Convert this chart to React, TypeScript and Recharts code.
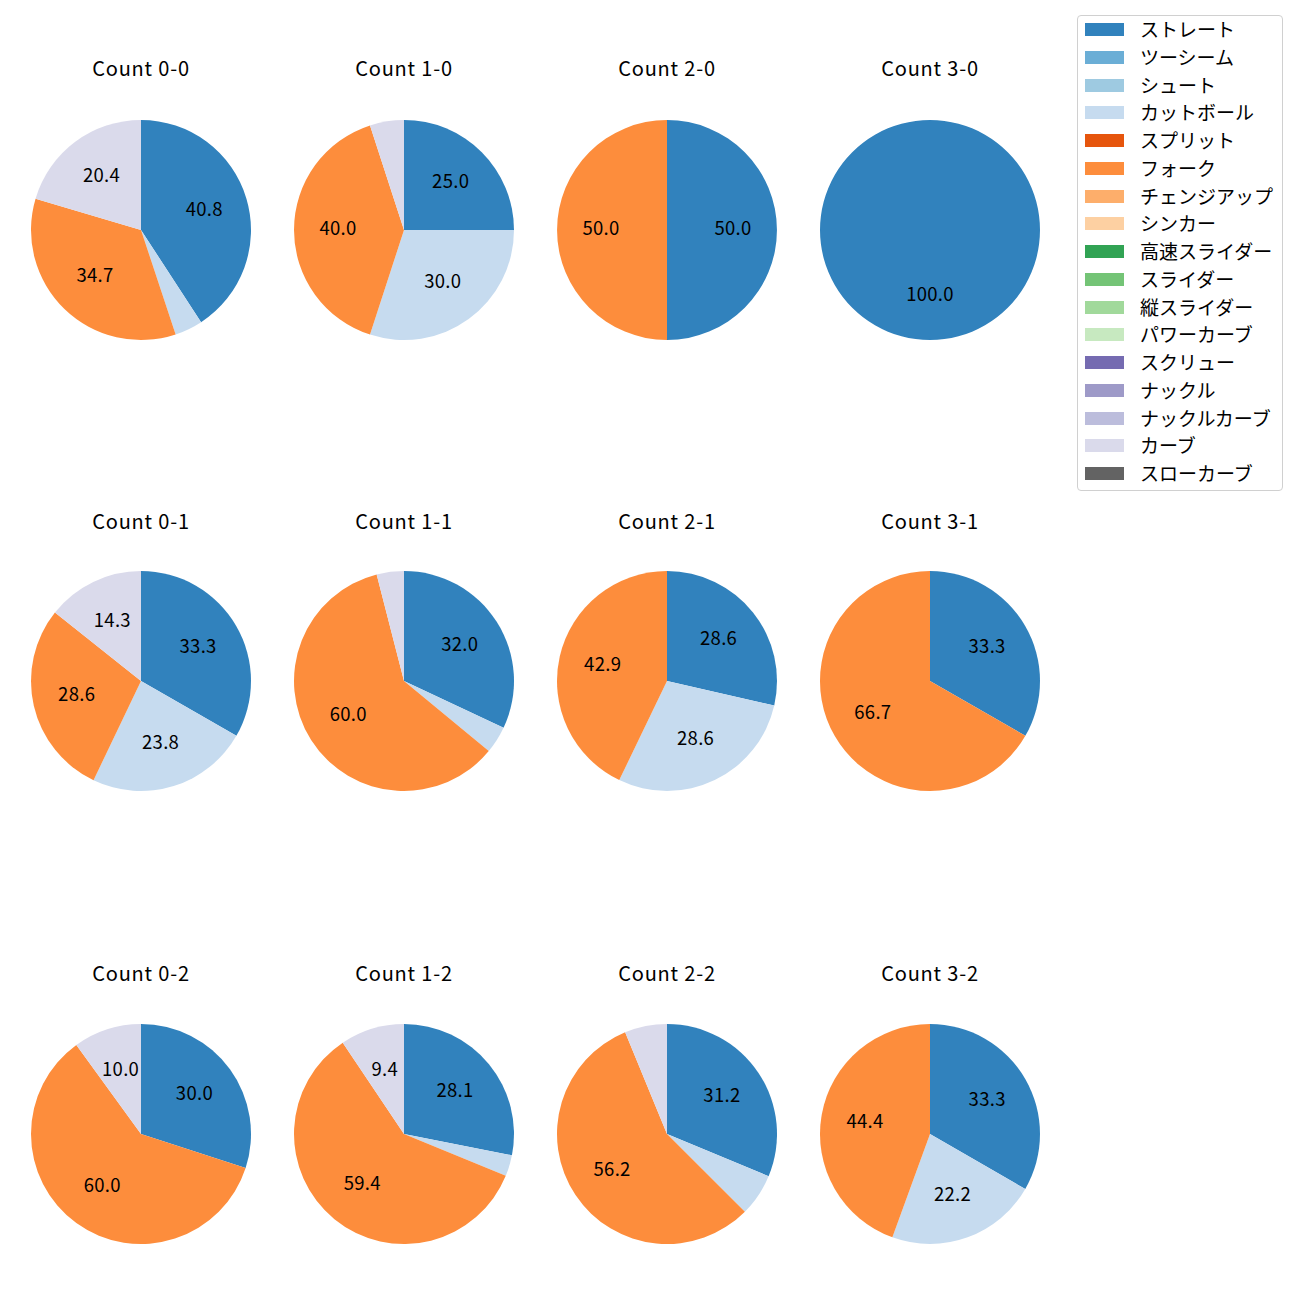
import * as React from "react";
import { Pie, PieChart, Cell } from "recharts";

const pitchTypes = [
  "ストレート", "ツーシーム", "シュート", "カットボール", "スプリット", "フォーク",
  "チェンジアップ", "シンカー", "高速スライダー", "スライダー", "縦スライダー",
  "パワーカーブ", "スクリュー", "ナックル", "ナックルカーブ", "カーブ", "スローカーブ",
];

const pitchColors = [
  "#3182bd", "#6baed6", "#9ecae1", "#c6dbef", "#e6550d", "#fd8d3c",
  "#fdae6b", "#fdd0a2", "#31a354", "#74c476", "#a1d99b",
  "#c7e9c0", "#756bb1", "#9e9ac8", "#bcbddc", "#dadaeb", "#636363",
];

// share per pitch type (ストレート, カットボール, フォーク, カーブ) in percent
const usedTypes = ["ストレート", "カットボール", "フォーク", "カーブ"];

const count00 = [40.8, 4.1, 34.7, 20.4];
const count10 = [25.0, 30.0, 40.0, 5.0];
const count20 = [50.0, 0, 50.0, 0];
const count30 = [100.0, 0, 0, 0];
const count01 = [33.3, 23.8, 28.6, 14.3];
const count11 = [32.0, 4.0, 60.0, 4.0];
const count21 = [28.6, 28.6, 42.9, 0];
const count31 = [33.3, 0, 66.7, 0];
const count02 = [30.0, 0, 60.0, 10.0];
const count12 = [28.1, 3.1, 59.4, 9.4];
const count22 = [31.2, 6.2, 56.2, 6.2];
const count32 = [33.3, 22.2, 44.4, 0];

const panels: { title: string; values: number[] }[] = [
  { title: "Count 0-0", values: count00 },
  { title: "Count 1-0", values: count10 },
  { title: "Count 2-0", values: count20 },
  { title: "Count 3-0", values: count30 },
  { title: "Count 0-1", values: count01 },
  { title: "Count 1-1", values: count11 },
  { title: "Count 2-1", values: count21 },
  { title: "Count 3-1", values: count31 },
  { title: "Count 0-2", values: count02 },
  { title: "Count 1-2", values: count12 },
  { title: "Count 2-2", values: count22 },
  { title: "Count 3-2", values: count32 },
];

const FONT = "'Noto Sans CJK JP', 'Noto Sans', sans-serif";
const RAD = Math.PI / 180;

const colX = [141, 404, 667, 930];
const rowY = [230, 681, 1134];
const titleY = [68, 521, 973];
const R = 110;
const CELL = 262;

function renderLabel(props: any) {
  const { cx, cy, midAngle, outerRadius, value } = props;
  if (value < 8) return null;
  const r = outerRadius * 0.6;
  const x = cx + r * Math.cos(-midAngle * RAD);
  const y = cy + r * Math.sin(-midAngle * RAD) - 3;
  return (
    <text x={x} y={y} textAnchor="middle" dominantBaseline="central" fill="#000" fontSize={18.5} letterSpacing={0.3} fontFamily={FONT}>
      {value.toFixed(1)}
    </text>
  );
}

function PiePanel({ title, values, x, y, ty }: { title: string; values: number[]; x: number; y: number; ty: number }) {
  const data = usedTypes
    .map((name, i) => ({ name, value: values[i] }))
    .filter((d) => d.value > 0);
  return (
    <>
      <div
        style={{
          position: "absolute",
          left: x - 100,
          top: ty - 14,
          width: 200,
          textAlign: "center",
          fontFamily: FONT,
          fontSize: 20,
          letterSpacing: 0.8,
          lineHeight: "28px",
          color: "#000",
        }}
      >
        {title}
      </div>
      <div style={{ position: "absolute", left: x - CELL / 2, top: y - CELL / 2 }}>
        <PieChart width={CELL} height={CELL} margin={{ top: 0, right: 0, bottom: 0, left: 0 }}>
          <Pie
            data={data}
            dataKey="value"
            nameKey="name"
            cx={CELL / 2}
            cy={CELL / 2}
            outerRadius={R}
            startAngle={90}
            endAngle={-270}
            stroke="none"
            labelLine={false}
            label={renderLabel}
            isAnimationActive={false}
          >
            {data.map((d) => (
              <Cell key={d.name} fill={pitchColors[pitchTypes.indexOf(d.name)]} />
            ))}
          </Pie>
        </PieChart>
      </div>
    </>
  );
}

function Legend() {
  return (
    <div
      style={{
        position: "absolute",
        left: 1077,
        top: 15,
        width: 204,
        height: 474,
        border: "1px solid #d0d0d0",
        borderRadius: 4,
        background: "#fff",
        fontFamily: FONT,
      }}
    >
      {pitchTypes.map((name, i) => (
        <div key={name} style={{ position: "absolute", left: 0, top: i * 27.75 - 1, height: 28, width: 204 }}>
          <div
            style={{
              position: "absolute",
              left: 7,
              top: 8,
              width: 39,
              height: 13,
              background: pitchColors[i],
            }}
          />
          <div style={{ position: "absolute", left: 62, top: 0, lineHeight: "28px", fontSize: 19, color: "#000", whiteSpace: "nowrap" }}>
            {name}
          </div>
        </div>
      ))}
    </div>
  );
}

export default function App() {
  return (
    <div style={{ position: "absolute", left: 0, top: 0, width: 1300, height: 1300, background: "#fff" }}>
      {panels.map((p, i) => (
        <PiePanel
          key={p.title}
          title={p.title}
          values={p.values}
          x={colX[i % 4]}
          y={rowY[Math.floor(i / 4)]}
          ty={titleY[Math.floor(i / 4)]}
        />
      ))}
      <Legend />
    </div>
  );
}
